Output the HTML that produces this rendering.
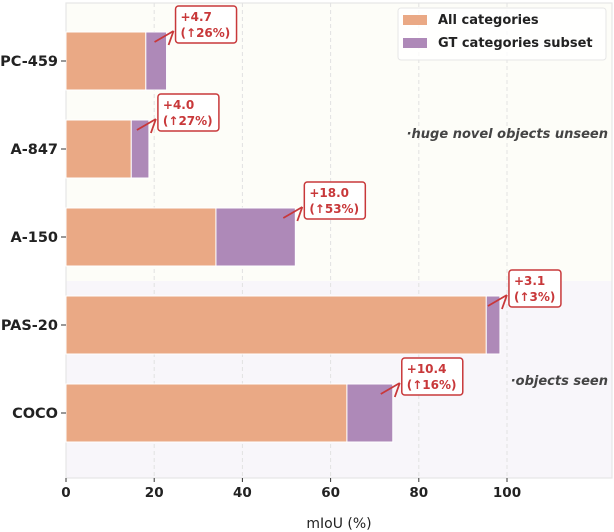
<!DOCTYPE html>
<html><head><meta charset="utf-8"><style>
body{margin:0;background:#fff;}
svg{display:block;font-family:"DejaVu Sans","Liberation Sans",sans-serif;}
</style></head><body>
<svg id="chart" width="614" height="532"></svg>
<script>
const categories = ["PC-459","A-847","A-150","PAS-20","COCO"];
const allValues = [18.1, 14.8, 34.0, 95.3, 63.7];
const gtGains = [4.7, 4.0, 18.0, 3.1, 10.4];
const gainPct = ["26%","27%","53%","3%","16%"];
const xTicks = [0,20,40,60,80,100];

const NS="http://www.w3.org/2000/svg";
const svg=document.getElementById('chart');
const X0=66, PX=4.41, L=66, R=612, T=3, B=478;
const xs=v=>X0+v*PX;
const yc=i=>61+i*88, BH=58;
function el(tag,attrs,parent){const e=document.createElementNS(NS,tag);for(const k in attrs)e.setAttribute(k,attrs[k]);(parent||svg).appendChild(e);return e;}

let r=el('rect',{x:L,y:T,width:R-L,height:278,fill:'#fdfdf8'});


r=el('rect',{x:L,y:281,width:R-L,height:B-281,fill:'#f8f6fa'});


el('rect',{x:L,y:T,width:R-L,height:B-T,fill:'none',stroke:'#e6e6e6','stroke-width':1.2});

xTicks.forEach(t=>{
  if(t>0){const g=el('line',{x1:xs(t),x2:xs(t),y1:T,y2:B,stroke:'#e2e2e2','stroke-dasharray':'4,3'});
  
  }
  el('line',{x1:xs(t),x2:xs(t),y1:B,y2:B+4,stroke:'#333'});
  const tx=el('text',{x:xs(t),y:B+19,'text-anchor':'middle','font-size':13.5,'font-weight':'bold',fill:'#222'});
  tx.textContent=t;
  
  
});

categories.forEach((c,i)=>{
  const y=yc(i)-BH/2;
  const a=el('rect',{x:xs(0),y:y,width:xs(allValues[i])-xs(0),height:BH,fill:'#eaa985',stroke:'#fff','stroke-width':1});
  
  
  const tot=allValues[i]+gtGains[i];
  const g=el('rect',{x:xs(allValues[i]),y:y,width:xs(tot)-xs(allValues[i]),height:BH,fill:'#ae89b8',stroke:'#fff','stroke-width':1});
  
  
  el('line',{x1:L-5,x2:L,y1:yc(i),y2:yc(i),stroke:'#333'});
  const lb=el('text',{x:L-8,y:yc(i)+5,'text-anchor':'end','font-size':14.5,'font-weight':'bold',fill:'#222'});
  lb.textContent=c;
  
  
  const ex=xs(tot), bx=ex+9, by=y-26;
  const ar=el('path',{d:`M${ex-12} ${y+10} L${bx-2} ${y-1} M${bx-2} ${y-1} L${bx-7} ${y+13}`,stroke:'#c8383a','stroke-width':1.8,fill:'none'});
  
  
  const w=gainPct[i].length>2?61:52;
  const bxr=el('rect',{x:bx,y:by,width:w,height:37,rx:3,fill:'#fff',stroke:'#c8383a','stroke-width':1.5});
  
  
  const t1=el('text',{x:bx+5,y:by+15,'font-size':12,'font-weight':'bold',fill:'#c8383a'});
  t1.textContent='+'+gtGains[i].toFixed(1);
  
  
  const t2=el('text',{x:bx+5,y:by+31,'font-size':12,'font-weight':'bold',fill:'#c8383a'});
  t2.textContent='(\u2191'+gainPct[i]+')';
  
  
});

let t=el('text',{x:608,y:138,'text-anchor':'end','font-size':13,'font-weight':'bold','font-style':'italic',fill:'#444'});
t.textContent='\u00b7huge novel objects unseen';


t=el('text',{x:608,y:385,'text-anchor':'end','font-size':13,'font-weight':'bold','font-style':'italic',fill:'#444'});
t.textContent='\u00b7objects seen';



t=el('text',{x:339,y:528,'text-anchor':'middle','font-size':14,fill:'#222'});
t.textContent='mIoU (%)';



const lg=el('g',{});


el('rect',{x:398,y:8,width:208,height:52,rx:3,fill:'#fff','fill-opacity':0.8,stroke:'#e6e6e6'},lg);
el('rect',{x:403,y:15,width:24,height:10,fill:'#eaa985'},lg);
el('rect',{x:403,y:38,width:24,height:10,fill:'#ae89b8'},lg);
let l1=el('text',{x:438,y:24,'font-size':13,'font-weight':'bold',fill:'#222'},lg);l1.textContent='All categories';


let l2=el('text',{x:438,y:47,'font-size':13,'font-weight':'bold',fill:'#222'},lg);l2.textContent='GT categories subset';


</script>
</body></html>
